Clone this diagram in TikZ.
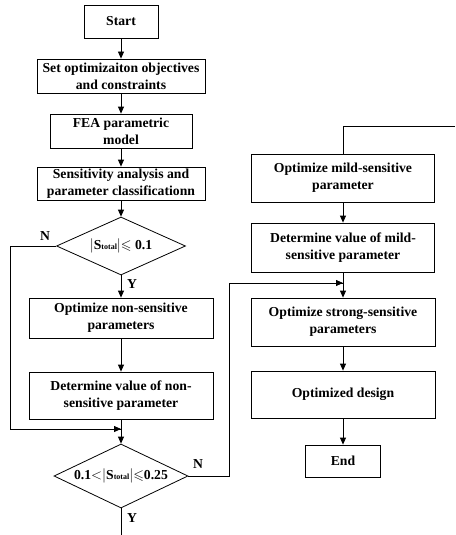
\documentclass[tikz,border=0pt]{standalone}
\usepackage{amsmath,amssymb}
\usepackage{fontspec}
\setmainfont{Liberation Serif}
\usetikzlibrary{shapes.geometric,arrows.meta}

\newcommand{\stotal}{$|$S{\fontsize{8}{8}\selectfont total}$|$}

\begin{document}
\begin{tikzpicture}[x=1pt,y=-1pt,
  box/.style={draw,line width=0.8pt,align=center,inner sep=1pt,font=\fontsize{13.7}{17}\selectfont\bfseries},
  cond/.style={box,diamond,inner sep=0pt},
  arr/.style={line width=0.8pt,-{Triangle[length=7pt,width=6pt]}},
  wire/.style={line width=0.8pt},
  lbl/.style={font=\fontsize{13.7}{17}\selectfont\bfseries}]
\useasboundingbox (0,0) rectangle (455,535);

% left column
\node[box,minimum width=74,minimum height=33] (start) at (121,21.5) {Start};
\node[box,minimum width=168,minimum height=34] (setobj) at (121,76) {Set optimizaiton objectives\\and constraints};
\node[box,minimum width=142,minimum height=34] (fea) at (121,131) {FEA parametric\\model};
\node[box,minimum width=168,minimum height=33] (sens) at (121,183.5) {Sensitivity analysis and\\parameter classificationn};
\node[cond,aspect=2.2,minimum width=129,minimum height=58] (dec1) at (121,246) {\stotal$\leqslant$ 0.1};
\node[box,minimum width=184,minimum height=40] (non1) at (121,318) {Optimize non-sensitive\\parameters};
\node[box,minimum width=184,minimum height=47] (non2) at (121,395.5) {Determine value of non-\\sensitive parameter};
\node[cond,aspect=2.1,minimum width=134,minimum height=64] (dec2) at (121,476) {0.1$<$\stotal$\leqslant$0.25};

% right column
\node[box,minimum width=183,minimum height=48] (mild1) at (343,178) {Optimize mild-sensitive\\parameter};
\node[box,minimum width=183,minimum height=49] (mild2) at (343,247.5) {Determine value of mild-\\sensitive parameter};
\node[box,minimum width=184,minimum height=48] (strong) at (343,322) {Optimize strong-sensitive\\parameters};
\node[box,minimum width=184,minimum height=47] (optd) at (343,394.5) {Optimized design};
\node[box,minimum width=75,minimum height=32] (endn) at (343,461) {End};

% helper points
\coordinate (loopl) at (10,246);
\coordinate (mergel) at (121,429);
\coordinate (loopr) at (229,476);
\coordinate (merger) at (343,283);
\coordinate (outy) at (121,535);
\coordinate (inr) at (455,126);

% draw straight arrows
\foreach \a/\b in {start/setobj,setobj/fea,fea/sens,sens/dec1,dec1/non1,non1/non2,non2/dec2,
  mild1/mild2,mild2/strong,strong/optd,optd/endn}
\draw[arr] (\a) -- (\b);

% draw loops
\draw[wire] (dec1.west) -- (loopl) |- (mergel);
\draw[arr] (loopl |- mergel) -- (mergel);
\draw[wire] (dec2.east) -- (loopr) |- (merger);
\draw[arr] (loopr |- merger) -- (merger);
\draw[wire] (dec2.south) -- (outy);
\draw[wire] (inr) -| (mild1.north);

% draw labels
\node[lbl] (n1) at (45,236) {N};
\node[lbl] (y1) at (132,284) {Y};
\node[lbl] (n2) at (198,464) {N};
\node[lbl] (y2) at (132,518) {Y};

\end{tikzpicture}
\end{document}
